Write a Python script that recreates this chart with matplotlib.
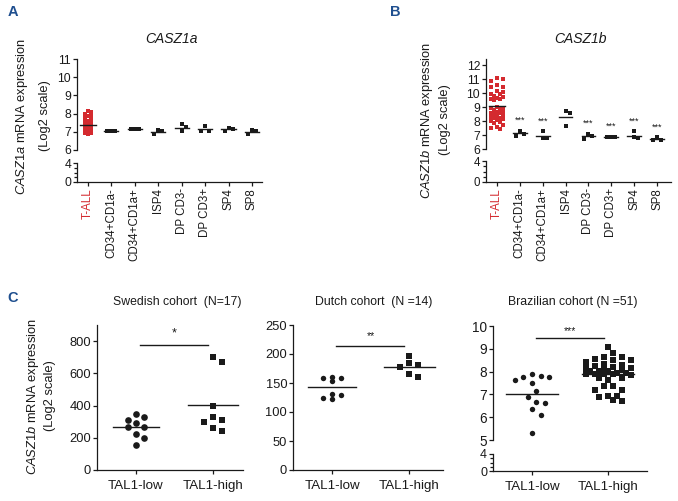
import matplotlib
matplotlib.use('Agg')
import matplotlib.pyplot as plt
from matplotlib import font_manager as fm
import numpy as np

names = {f.name for f in fm.fontManager.ttflist}
REG = 'Liberation Sans' if 'Liberation Sans' in names else 'DejaVu Sans'

plt.rcParams['font.family'] = REG
plt.rcParams['mathtext.fontset'] = 'custom'
plt.rcParams['mathtext.rm'] = REG
plt.rcParams['mathtext.it'] = REG + ':italic'

RED = '#d42a2f'
BLUE = '#1f4f8f'
INK = '#1a1a1a'

# ---- data: panel A / B (log2 expression) ----
cells = ['T-ALL', 'CD34+CD1a-', 'CD34+CD1a+', 'ISP4', 'DP CD3-', 'DP CD3+', 'SP4', 'SP8']

a_tall = [8.12, 8.08, 7.98, 7.92, 7.85, 7.78, 7.70, 7.62, 7.55, 7.50, 7.45, 7.42,
          7.38, 7.35, 7.32, 7.30, 7.28, 7.25, 7.22, 7.20, 7.18, 7.15, 7.12, 7.10,
          7.08, 7.05, 7.03, 7.00, 6.98, 6.96, 6.94, 6.92, 6.88, 7.40, 7.60]
a_thymus = [[7.03, 7.05, 7.07], [7.13, 7.15, 7.16], [7.11, 6.89, 7.02],
            [7.41, 7.26, 7.02], [7.30, 7.07, 7.07], [7.22, 7.04, 7.13],
            [7.11, 6.89, 7.04]]

b_tall = [11.05, 11.0, 10.85, 10.6, 10.45, 10.4, 9.6, 10.15, 10.05, 9.95, 9.9, 9.8,
          9.75, 9.65, 9.55, 9.5, 8.9, 8.6, 8.25, 8.15, 9.0, 8.95, 8.85, 8.8, 8.7,
          8.65, 8.55, 8.5, 8.45, 8.35, 8.3, 8.2, 8.1, 8.0, 7.95, 7.85, 7.7, 7.6,
          7.5, 7.45]
b_thymus = [[7.28, 6.95, 7.10], [7.26, 6.79, 6.79], [8.68, 8.56, 7.66],
            [7.09, 6.74, 6.90], [6.83, 6.83, 6.86], [7.26, 6.79, 6.83],
            [6.83, 6.67, 6.67]]
b_stars = ['***', '***', '', '***', '***', '***', '***']

# ---- data: panel C (three cohorts) ----
groups = ['TAL1-low', 'TAL1-high']
swe_low = [348, 329, 308, 292, 267, 267, 225, 198, 154]
swe_high = [704, 671, 396, 329, 312, 296, 260, 244]
dut_low = [160, 159, 154, 159, 129, 122, 125, 131]
dut_high = [197, 181, 184, 177, 160, 165]
bra_low = [7.89, 7.78, 7.65, 7.51, 7.76, 7.82, 7.17, 6.88, 6.63, 6.67, 6.34, 6.08, 5.31]
bra_high = [9.07, 8.81, 8.63, 8.63, 8.49, 8.49, 8.40, 8.30, 8.23, 8.15, 8.15, 8.01,
            8.01, 8.01, 7.92, 7.89, 7.89, 7.90, 7.88, 7.86, 7.72, 7.72, 7.62, 7.95,
            8.05, 8.10, 7.38, 7.38, 8.20, 7.21, 7.21, 8.35, 8.55, 6.95, 6.95, 6.89,
            6.74, 6.72]

W, H = 678, 501
fig = plt.figure(figsize=(W / 100, H / 100), dpi=100)


def add(l, t, r, b):
    ax = fig.add_axes([l / W, 1 - b / H, (r - l) / W, (b - t) / H])
    ax.patch.set_visible(False)
    ax.spines['top'].set_visible(False)
    ax.spines['right'].set_visible(False)
    for s in ax.spines.values():
        s.set_linewidth(0.9)
        s.set_color(INK)
    ax.tick_params(colors=INK, width=0.9, length=3, pad=1.2)
    return ax


def broken(l, t, r, mt, mb, b, ylim, xlim):
    up = add(l, t, r, mt)
    lo = add(l, mb, r, b)
    up.spines['bottom'].set_visible(False)
    up.tick_params(axis='x', bottom=False, labelbottom=False)
    up.set_xlim(xlim)
    lo.set_xlim(xlim)
    up.set_ylim(ylim)
    lo.set_ylim(0, 4)
    lo.set_yticks([0, 4])
    lo.set_yticks([1, 2, 3], minor=True)
    lo.tick_params(axis='y', which='minor', length=2, width=0.9, color=INK)
    return up, lo


def swarm(vals, ppu, ppc, step, gap, cap):
    vals = np.asarray(vals, float)
    ys = vals * ppu
    cands = [0.0]
    k = 1
    while k * step <= cap + 1e-9:
        cands += [k * step, -k * step]
        k += 1
    placed = []
    offs = np.zeros(len(vals))
    for i in np.argsort(-vals, kind='stable'):
        y = ys[i]

        def clear(c):
            return min([(c - px) ** 2 + (y - py) ** 2 for px, py in placed], default=1e9)
        pick = next((c for c in cands if clear(c) >= gap * gap), None)
        if pick is None:
            pick = max(cands, key=clear)
        placed.append((pick, y))
        offs[i] = pick / ppc
    return offs


def dots(ax, x, vals, marker, ms, color, sc, half):
    offs = swarm(vals, *sc)
    ax.plot(x + offs, vals, ls='none', marker=marker, ms=ms, mfc=color, mec=color,
            mew=0, clip_on=False, zorder=2)
    m = np.mean(vals)
    ax.plot([x - half, x + half], [m, m], color=INK, lw=1.0, zorder=3, clip_on=False)


def ftext(x, y, s, **kw):
    fig.text(x / W, 1 - y / H, s, **kw)


def cells_axis(lo):
    lo.set_xticks(range(len(cells)))
    lo.set_xticklabels(cells, rotation=90, fontsize=8.3)
    lo.get_xticklabels()[0].set_color(RED)


# ---------- panel A ----------
upA, loA = broken(77, 59, 262, 150, 163, 182, (6, 11), (-0.47, 7.43))
upA.set_yticks(range(6, 12))
for ax in (upA, loA):
    ax.tick_params(axis='y', labelsize=8.8)
cells_axis(loA)
dots(upA, 0, a_tall, 's', 3.4, RED, (18.2, 23.4, 2.6, 4.2, 5), 0.36)
for i, v in enumerate(a_thymus):
    dots(upA, i + 1, v, 's', 3.4, INK, (18.2, 23.4, 4.0, 4.8, 7), 0.3)

# ---------- panel B ----------
upB, loB = broken(486, 59, 671, 149, 161, 182, (6, 12.43), (-0.48, 7.61))
upB.set_yticks(range(6, 13))
upB.tick_params(axis='y', labelsize=8.8)
loB.tick_params(axis='y', labelsize=8.3)
cells_axis(loB)
dots(upB, 0, b_tall, 's', 3.4, RED, (14, 22.9, 3.0, 4.3, 7), 0.36)
for i, v in enumerate(b_thymus):
    dots(upB, i + 1, v, 's', 3.4, INK, (14, 22.9, 4.0, 4.8, 7), 0.3)
    if b_stars[i]:
        upB.text(i + 1, max(v) + 0.75, b_stars[i], ha='center', va='center',
                 fontsize=6.5, color=INK)

# ---------- panel C ----------
CT = 9.3


def cohort_axis(ax, xlim):
    ax.set_xlim(xlim)
    ax.set_xticks([0, 1])
    ax.set_xticklabels(groups, fontsize=9.6)
    ax.tick_params(axis='x', pad=4)
    ax.tick_params(axis='y', labelsize=CT)


def sig(ax, y, ty, s):
    ax.plot([0.05, 0.94], [y, y], color=INK, lw=1.0, clip_on=False)
    ax.text(0.5, ty, s, ha='center', va='center', fontsize=9 if s == '*' else 7.5, color=INK)


sw = add(97, 325, 243, 470)
sw.set_ylim(0, 900)
sw.set_yticks([0, 200, 400, 600, 800])
cohort_axis(sw, (-0.506, 1.39))
dots(sw, 0, swe_low, 'o', 4.8, INK, (0.161, 77, 8, 7.5, 12), 0.3)
dots(sw, 1, swe_high, 's', 4.3, INK, (0.161, 77, 4.3, 7.5, 12), 0.33)
sig(sw, 775, 845, '*')

du = add(293, 325, 443, 470)
du.set_ylim(0, 250)
du.set_yticks(range(0, 251, 50))
cohort_axis(du, (-0.506, 1.44))
dots(du, 0, dut_low, 'o', 3.9, INK, (0.58, 77, 9, 8, 15), 0.31)
dots(du, 1, dut_high, 's', 3.9, INK, (0.58, 77, 4.3, 7.5, 12), 0.33)
sig(du, 214, 231, '**')

upC, loC = broken(493, 326, 647, 440, 454, 471, (5, 10), (-0.513, 1.51))
upC.set_yticks(range(5, 11))
upC.tick_params(axis='y', labelsize=9.8)
loC.tick_params(axis='y', labelsize=9)
loC.set_xticks([0, 1])
loC.set_xticklabels(groups, fontsize=9.6)
loC.tick_params(axis='x', pad=4)
dots(upC, 0, bra_low, 'o', 3.9, INK, (23, 76, 4.3, 8, 18), 0.34)
dots(upC, 1, bra_high, 's', 3.7, INK, (23, 76, 4.5, 6.5, 24), 0.34)
sig(upC, 9.49, 9.78, '***')

# ---------- texts ----------
for lab, x, y in [('A', 13, 12), ('B', 395, 12), ('C', 13, 298)]:
    ftext(x, y, lab, fontsize=10.5, fontweight='bold', color=BLUE, ha='center', va='center')

ftext(171, 39, 'CASZ1a', fontsize=10, fontstyle='italic', ha='center', va='center', color=INK)
ftext(580, 39, 'CASZ1b', fontsize=10, fontstyle='italic', ha='center', va='center', color=INK)

for x1, x2, y, gene in [(22, 45, 116, 'CASZ1a'), (427, 445, 120, 'CASZ1b'), (33, 50, 396, 'CASZ1b')]:
    ftext(x1, y, r'$\it{' + gene + '}$ mRNA expression', rotation=90, fontsize=9.3,
          ha='center', va='center', color=INK)
    ftext(x2, y, '(Log2 scale)', rotation=90, fontsize=9.3, ha='center', va='center', color=INK)

for x, s in [(177, 'Swedish cohort  (N=17)'), (374, 'Dutch cohort  (N =14)'),
             (573, 'Brazilian cohort (N =51)')]:
    ftext(x, 302, s, fontsize=8.8, ha='center', va='center', color=INK)

fig.savefig('out.png', dpi=100)
